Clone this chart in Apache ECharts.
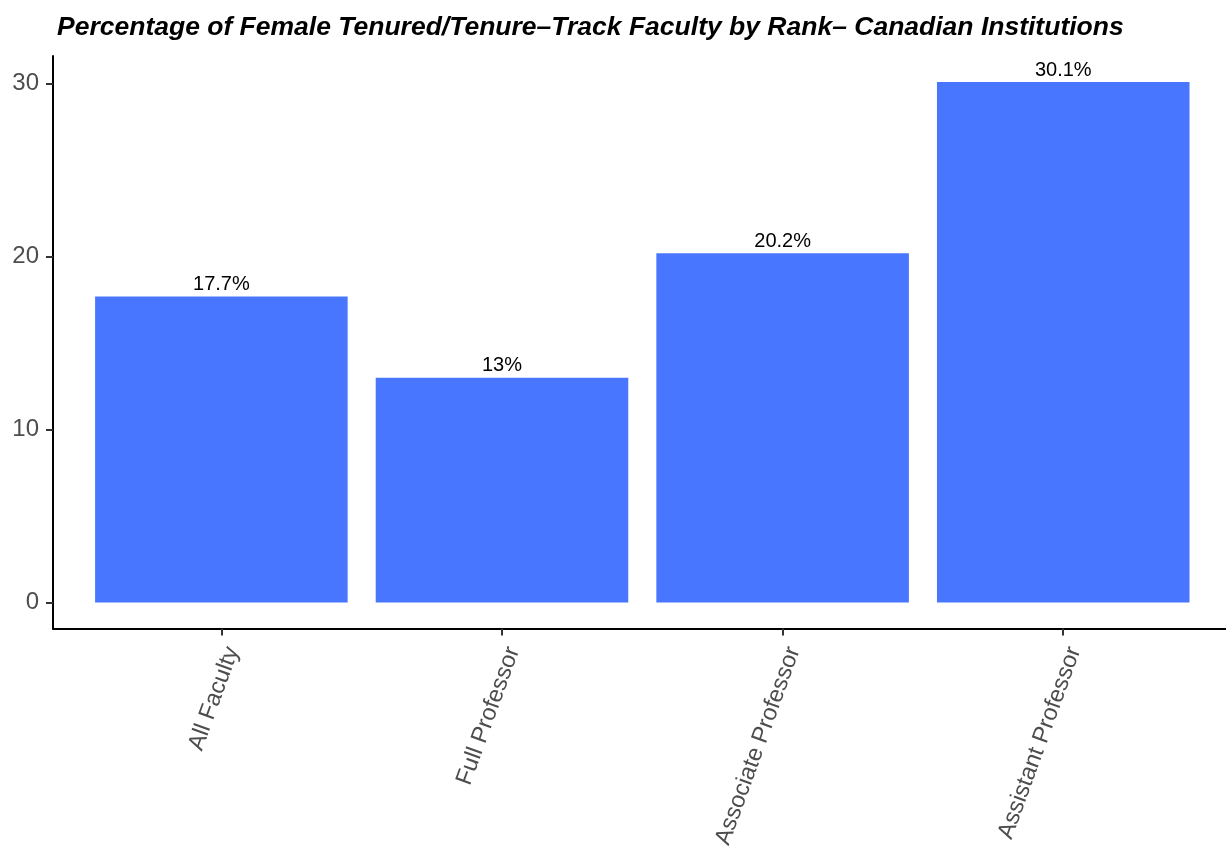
<!DOCTYPE html>
<html>
<head>
<meta charset="utf-8">
<script src="https://cdn.jsdelivr.net/npm/echarts@6/dist/echarts.min.js"></script>
<style>
  html, body { margin: 0; padding: 0; background: #ffffff; }
  #chart { width: 1226px; height: 851px; }
</style>
</head>
<body>
<div id="chart"></div>
<script>
// Ranks and the share of women in each (percent)
const categories = ['All Faculty', 'Full Professor', 'Associate Professor', 'Assistant Professor'];
const femalePct = [17.7, 13, 20.2, 30.1];
const yTicks = [0, 10, 20, 30];

const chartTitle = 'Percentage of Female Tenured/Tenure\u2013Track Faculty by Rank\u2013 Canadian Institutions';

// Positions 1..n on a continuous x scale; left padding 0.6, the panel is cut at the right edge
const xPositions = categories.map((_, i) => i + 1);
const xMin = 0.4, xMax = 4.58;
const yMax = Math.max(...femalePct);
const yPad = yMax * 0.05;

const gridLeft = 53, gridRight = 0, gridTop = 56, gridBottom = 221;
const plotWidth = 1226 - gridLeft - gridRight;
const barWidth = plotWidth / (xMax - xMin) * 0.9;

const FONT = 'Liberation Sans, Arial, Helvetica, sans-serif';

const chart = echarts.init(document.getElementById('chart'), null, { renderer: 'canvas' });

chart.setOption({
  animation: false,
  backgroundColor: '#ffffff',
  title: {
    text: chartTitle,
    left: 52,
    top: 9,
    textStyle: {
      fontFamily: FONT,
      fontSize: 26.5,
      fontWeight: 'bold',
      fontStyle: 'italic',
      color: '#000000'
    }
  },
  grid: { left: gridLeft, right: gridRight, top: gridTop, bottom: gridBottom, containLabel: false },
  xAxis: {
    type: 'value',
    min: xMin,
    max: xMax,
    splitLine: { show: false },
    axisLine: { show: true, onZero: false, lineStyle: { color: '#000000', width: 2 } },
    axisTick: { show: true, length: 7, customValues: xPositions, lineStyle: { color: '#333333', width: 2 } },
    axisLabel: {
      customValues: xPositions,
      rotate: 70,
      margin: 15,
      align: 'right',
      verticalAlign: 'top',
      fontFamily: FONT,
      fontSize: 23.5,
      color: '#4D4D4D',
      formatter: v => categories[Math.round(v) - 1] || ''
    }
  },
  yAxis: {
    type: 'value',
    min: -yPad,
    max: yMax + yPad,
    splitLine: { show: false },
    axisLine: { show: true, onZero: false, lineStyle: { color: '#000000', width: 2 } },
    axisTick: { show: true, length: 7, customValues: yTicks, lineStyle: { color: '#333333', width: 2 } },
    axisLabel: {
      customValues: yTicks,
      margin: 14,
      fontFamily: FONT,
      fontSize: 24,
      color: '#4D4D4D',
      formatter: v => String(Math.round(v))
    }
  },
  series: [{
    type: 'bar',
    barWidth: barWidth,
    itemStyle: { color: '#4876FF' },
    label: {
      show: true,
      position: 'top',
      distance: 2,
      fontFamily: FONT,
      fontSize: 20,
      color: '#000000',
      formatter: p => p.value[1] + '%'
    },
    data: xPositions.map((x, i) => [x, femalePct[i]])
  }]
});
</script>
</body>
</html>
